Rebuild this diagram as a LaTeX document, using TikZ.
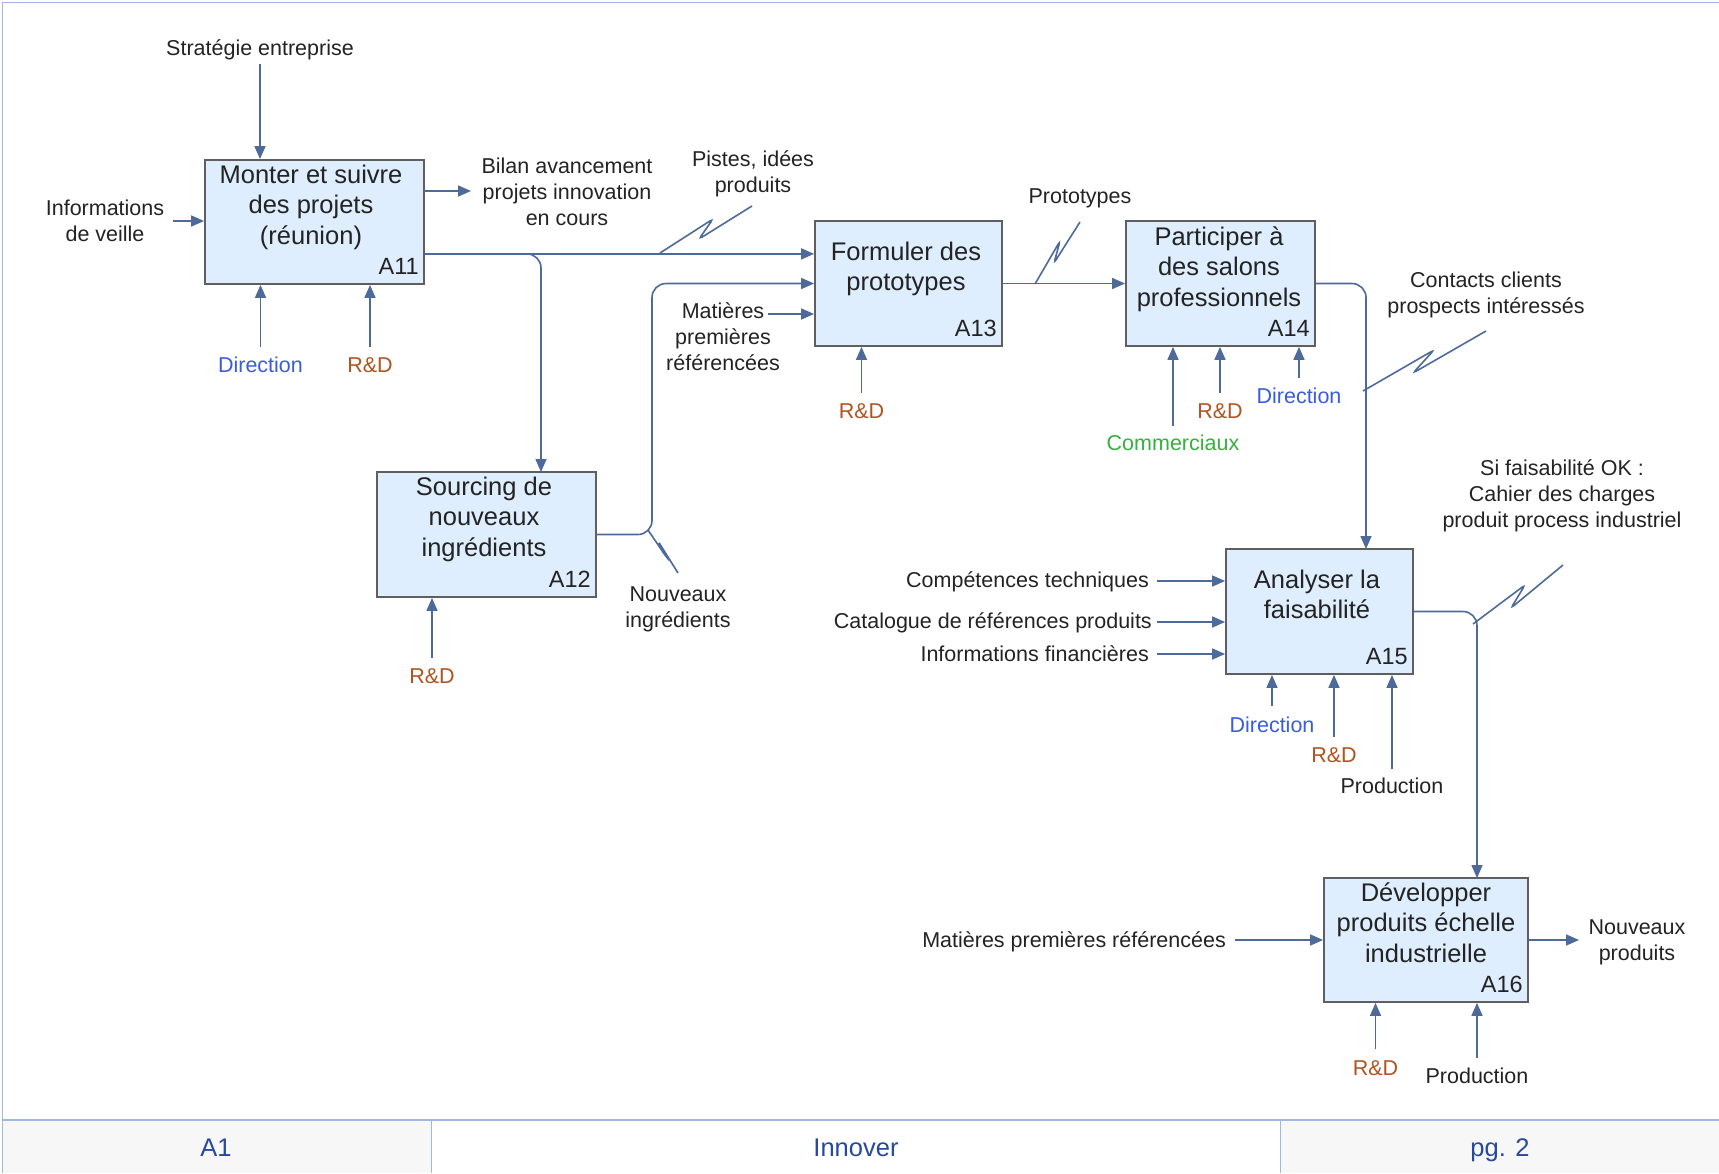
\documentclass[tikz,border=0pt]{standalone}
\usepackage{fontspec}
\setmainfont{Liberation Sans}
\usetikzlibrary{arrows.meta}
\definecolor{arrc}{RGB}{78,106,155}
\definecolor{boxfill}{RGB}{222,238,254}
\definecolor{boxline}{RGB}{95,95,95}
\definecolor{dirc}{RGB}{58,92,222}
\definecolor{rdc}{RGB}{178,84,32}
\definecolor{comc}{RGB}{52,178,62}
\definecolor{txtc}{RGB}{35,35,35}
\definecolor{framec}{RGB}{160,184,222}
\definecolor{footc}{RGB}{38,72,158}
\definecolor{footbg}{RGB}{247,247,247}
\begin{document}
\begin{tikzpicture}[x=1pt,y=-1pt,
 procbox/.style={draw=boxline, line width=1.8pt, fill=boxfill, inner sep=0pt},
 ttl/.style={font=\fontsize{25.5}{30.5}\selectfont, text=txtc, align=center, inner sep=0pt, anchor=north},
 idl/.style={font=\fontsize{23.5}{28}\selectfont, text=txtc, inner sep=0pt, anchor=base east},
 lab/.style={font=\fontsize{21.5}{26}\selectfont, text=txtc, inner sep=0pt, align=center},
 arr/.style={draw=arrc, line width=1.6pt, -{Triangle[length=13pt,width=11pt]}},
 wire/.style={draw=arrc, line width=1.6pt},
 sq/.style={draw=arrc, line width=1.6pt, rounded corners=3.5pt},
 foot/.style={font=\fontsize{25.5}{30}\selectfont, text=footc, inner sep=0pt, anchor=base},
]
\useasboundingbox (0,0) rectangle (1719,1173);
\fill[white] (0,0) rectangle (1719,1173);
% frame and footer
\fill[footbg] (3,1120) rectangle (431,1173);
\fill[footbg] (1280,1120) rectangle (1719,1173);
\draw[framec, line width=1.5pt] (2.5,1173) -- (2.5,2.5) -- (1719,2.5);
\draw[framec, line width=1.8pt] (2.5,1120) -- (1719,1120);
\draw[framec, line width=1pt] (431,1120) -- (431,1173);
\draw[framec, line width=1pt] (1280,1120) -- (1280,1173);
\node[foot] (fa1) at (216,1156) {A1};
\node[foot] (finn) at (856,1156) {Innover};
\node[foot] (fpg) at (1500,1156) {pg. 2};

% boxes
\node[procbox, minimum width=219pt, minimum height=124pt] (a11) at (314.5,222) {};
\node[procbox, minimum width=219pt, minimum height=125pt] (a12) at (486.5,534.5) {};
\node[procbox, minimum width=187pt, minimum height=125pt] (a13) at (908.5,283.5) {};
\node[procbox, minimum width=189pt, minimum height=125pt] (a14) at (1220.5,283.5) {};
\node[procbox, minimum width=187pt, minimum height=125pt] (a15) at (1319.5,611.5) {};
\node[procbox, minimum width=204pt, minimum height=124pt] (a16) at (1426,940) {};

\node[ttl] (t11) at (311,164.5) {Monter et suivre\\des projets\\(réunion)};
\node[ttl] (t12) at (484,476.5) {Sourcing de\\nouveaux\\ingrédients};
\node[ttl] (t13) at (906,241.5) {Formuler des\\prototypes};
\node[ttl] (t14) at (1219,226.5) {Participer à\\des salons\\professionnels};
\node[ttl] (t15) at (1317,569.5) {Analyser la\\faisabilité};
\node[ttl] (t16) at (1426,882.5) {Développer\\produits échelle\\industrielle};

\node[idl] (id11) at ([xshift=-6pt,yshift=10pt]a11.south east) {A11};
\node[idl] (id12) at ([xshift=-6pt,yshift=10pt]a12.south east) {A12};
\node[idl] (id13) at ([xshift=-6pt,yshift=10pt]a13.south east) {A13};
\node[idl] (id14) at ([xshift=-6pt,yshift=10pt]a14.south east) {A14};
\node[idl] (id15) at ([xshift=-6pt,yshift=10pt]a15.south east) {A15};
\node[idl] (id16) at ([xshift=-6pt,yshift=10pt]a16.south east) {A16};

% ---- A11
\node[lab, anchor=base] (lstrat) at (260,55) {Stratégie entreprise};
\coordinate (cstrat) at (260,64);
\draw[arr] (cstrat) -- (cstrat |- a11.north);
\node[lab, anchor=north] (lveille) at (105,200) {Informations\\de veille};
\coordinate (cveille) at (173,221);
\draw[arr] (cveille) -- (cveille -| a11.west);
\node[lab, anchor=base, text=dirc] (ldir11) at (260.5,372) {Direction};
\coordinate (cdir11) at (260.5,347);
\draw[arr] (cdir11) -- (cdir11 |- a11.south);
\node[lab, anchor=base, text=rdc] (lrd11) at (370,372) {R\&D};
\coordinate (crd11) at (370,347);
\draw[arr] (crd11) -- (crd11 |- a11.south);
\coordinate (cbil) at (424,191);
\coordinate (ebil) at (471,191);
\draw[arr] (cbil) -- (ebil);
\node[lab, anchor=north] (lbil) at (567,157.5) {Bilan avancement\\projets innovation\\en cours};
\path (a11.south east) ++(0,-31) coordinate (o11);
\draw[arr] (o11) -- (o11 -| a13.west);
\coordinate (b12) at (541,472);
\draw[arr, rounded corners=14pt] (o11) -| (b12);
\node[lab, anchor=north] (lpist) at (753,150.5) {Pistes, idées\\produits};
\draw[sq] (660,253) -- (713,219) -- (699,239) -- (752,206);

% ---- A12
\node[lab, anchor=base, text=rdc] (lrd12) at (432,683) {R\&D};
\coordinate (crd12) at (432,658);
\draw[arr] (crd12) -- (crd12 |- a12.south);
\coordinate (k1) at (652,283.5);
\draw[arr, rounded corners=14pt] (a12.east) -| (k1) -- (a13.west);
\draw[sq] (648,530) -- (667,558) -- (658,541) -- (678,573);
\node[lab, anchor=north] (lnouv) at (678,586.5) {Nouveaux\\ingrédients};

% ---- A13
\node[lab, anchor=north] (lmat) at (723,302.5) {Matières\\premières\\référencées};
\coordinate (cmat) at (768,314);
\draw[arr] (cmat) -- (cmat -| a13.west);
\node[lab, anchor=base, text=rdc] (lrd13) at (861.5,418) {R\&D};
\coordinate (crd13) at (861.5,393);
\draw[arr] (crd13) -- (crd13 |- a13.south);
\draw[arr] (a13.east) -- (a14.west);
\node[lab, anchor=base] (lproto) at (1080,203) {Prototypes};
\draw[sq] (1035,284) -- (1060,241) -- (1054,263) -- (1080,222);

% ---- A14
\node[lab, anchor=base, text=comc] (lcom) at (1173,450) {Commerciaux};
\coordinate (ccom) at (1173,426);
\draw[arr] (ccom) -- (ccom |- a14.south);
\node[lab, anchor=base, text=rdc] (lrd14) at (1220,418) {R\&D};
\coordinate (crd14) at (1220,393);
\draw[arr] (crd14) -- (crd14 |- a14.south);
\node[lab, anchor=base, text=dirc] (ldir14) at (1299,403) {Direction};
\coordinate (cdir14) at (1299,378);
\draw[arr] (cdir14) -- (cdir14 |- a14.south);
\coordinate (e15) at (1366,549);
\draw[arr, rounded corners=14pt] (a14.east) -| (e15);
\node[lab, anchor=north] (lcont) at (1486,271.5) {Contacts clients\\prospects intéressés};
\draw[sq] (1363,391) -- (1434,350) -- (1413,373) -- (1486,331);

% ---- A15
\node[lab, anchor=base east] (lcomp) at (1149,587) {Compétences techniques};
\coordinate (ccomp) at (1157,581);
\draw[arr] (ccomp) -- (ccomp -| a15.west);
\node[lab, anchor=base east] (lcat) at (1152,628) {Catalogue de références produits};
\coordinate (ccat) at (1157,622);
\draw[arr] (ccat) -- (ccat -| a15.west);
\node[lab, anchor=base east] (lfin) at (1149,661) {Informations financières};
\coordinate (cfin) at (1157,654);
\draw[arr] (cfin) -- (cfin -| a15.west);
\node[lab, anchor=base, text=dirc] (ldir15) at (1272,732) {Direction};
\coordinate (cdir15) at (1272,706);
\draw[arr] (cdir15) -- (cdir15 |- a15.south);
\node[lab, anchor=base, text=rdc] (lrd15) at (1334,762) {R\&D};
\coordinate (crd15) at (1334,737);
\draw[arr] (crd15) -- (crd15 |- a15.south);
\node[lab, anchor=base] (lprod15) at (1392,793) {Production};
\coordinate (cprod15) at (1392,769);
\draw[arr] (cprod15) -- (cprod15 |- a15.south);
\coordinate (e16) at (1477,878);
\draw[arr, rounded corners=14pt] (a15.east) -| (e16);
\node[lab, anchor=north] (lsi) at (1562,459.5) {Si faisabilité OK :\\Cahier des charges\\produit process industriel};
\draw[sq] (1473,624) -- (1525,585) -- (1511,608) -- (1563,565);

% ---- A16
\node[lab, anchor=base east] (lmat16) at (1226,947) {Matières premières référencées};
\coordinate (cmat16) at (1235,940);
\draw[arr] (cmat16) -- (a16.west);
\coordinate (enp) at (1579,940);
\draw[arr] (a16.east) -- (enp);
\node[lab, anchor=north] (lnp) at (1637,919.5) {Nouveaux\\produits};
\node[lab, anchor=base, text=rdc] (lrd16) at (1375.5,1075) {R\&D};
\coordinate (crd16) at (1375.5,1049);
\draw[arr] (crd16) -- (crd16 |- a16.south);
\node[lab, anchor=base] (lprod16) at (1477,1083) {Production};
\coordinate (cprod16) at (1477,1058);
\draw[arr] (cprod16) -- (cprod16 |- a16.south);
\end{tikzpicture}
\end{document}
